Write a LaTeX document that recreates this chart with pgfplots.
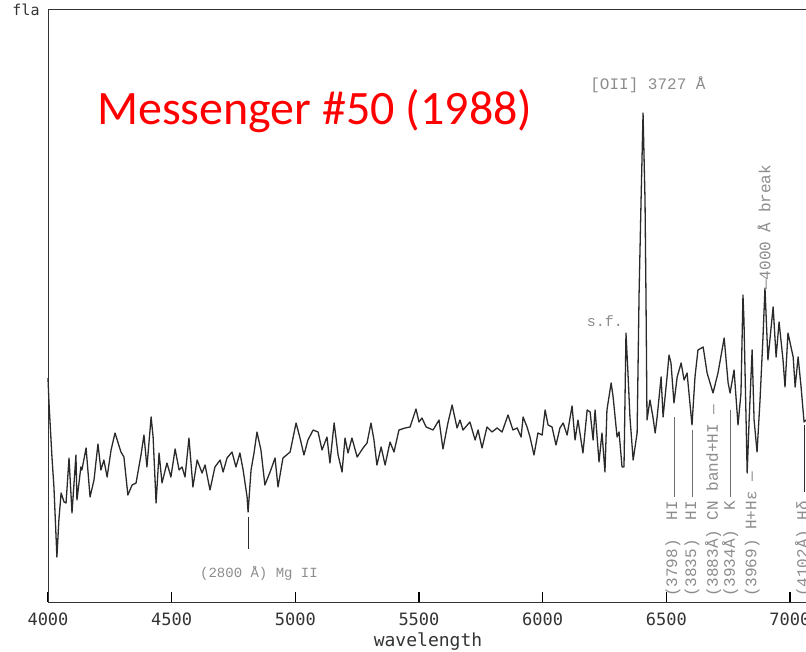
\documentclass[border=0pt]{standalone}
\usepackage{pgfplots}
\pgfplotsset{compat=1.18}
\usepackage{fontspec}
\setmainfont{Liberation Mono}
\newfontfamily\plotter{DejaVu Sans Mono}
\newfontfamily\titlefont{Carlito}
\definecolor{annot}{HTML}{8C8C8C}
\definecolor{annotline}{HTML}{6E6E6E}
\definecolor{trace}{HTML}{2A2A2A}
\tikzset{vlabel/.style={annot, font=\fontsize{16}{16}\selectfont, rotate=90, anchor=west, inner sep=0pt}}

\begin{document}
\begin{tikzpicture}
\begin{axis}[
  at={(0,0)}, anchor=south west,
  scale only axis, width=760pt, height=592pt,
  xmin=4000, xmax=7073, ymin=0, ymax=592,
  axis line style={line width=1pt, black!80},
  xtick={4000,4500,5000,5500,6000,6500,7000},
  xticklabels={4000,4500,5000,5500,6000,6500,7000},
  xtick pos=bottom, ytick=\empty,
  tick align=inside, major tick length=10pt,
  xtick style={line width=1.2pt, black},
  xticklabel style={font=\plotter\fontsize{17}{17}\selectfont, text=black!80, yshift=-7pt},
  xlabel={wavelength},
  xlabel style={font=\plotter\fontsize{18}{18}\selectfont, text=black!80, yshift=0pt},
  clip=false,
]
\addplot[trace, line width=1.3pt, line join=round] table[x=lam, y=flux] {
lam flux
4000 224
4004 199
4016 145
4024 115
4036 45
4044 82
4053 109
4065 100
4073 99
4085 144
4097 89
4113 147
4117 102
4133 135
4137 132
4154 154
4170 105
4186 122
4202 158
4214 132
4226 142
4239 125
4255 152
4271 169
4295 150
4307 145
4323 107
4340 117
4356 119
4376 147
4388 167
4400 135
4417 185
4425 165
4437 99
4449 149
4461 119
4481 139
4497 125
4514 153
4530 132
4542 135
4554 125
4570 164
4586 115
4603 142
4623 129
4635 137
4655 112
4675 135
4696 142
4708 130
4724 144
4744 150
4760 135
4776 149
4789 132
4805 105
4809 90
4821 132
4833 149
4845 170
4861 152
4877 117
4898 130
4918 144
4930 115
4950 144
4979 150
5003 179
5019 164
5035 147
5051 162
5072 172
5092 170
5108 152
5128 165
5140 139
5157 179
5173 147
5189 130
5201 164
5213 149
5229 164
5250 145
5274 154
5290 159
5306 179
5318 162
5330 137
5347 155
5363 137
5383 160
5399 150
5419 172
5444 174
5464 175
5488 193
5500 180
5512 184
5529 175
5557 172
5581 182
5597 153
5617 179
5634 197
5654 174
5666 182
5678 172
5706 180
5727 162
5739 172
5755 154
5775 175
5795 170
5816 174
5836 170
5860 187
5880 172
5897 174
5913 165
5921 185
5937 175
5949 165
5965 147
5981 169
5998 167
6010 192
6022 177
6038 175
6054 157
6070 174
6083 179
6099 167
6119 196
6131 162
6143 182
6163 149
6180 192
6192 190
6204 162
6212 192
6228 140
6240 169
6252 130
6260 192
6277 219
6285 205
6301 165
6309 170
6321 135
6329 135
6337 269
6345 229
6353 185
6366 142
6382 169
6390 309
6398 402
6406 489
6414 402
6418 302
6422 182
6434 202
6446 185
6455 169
6463 185
6479 225
6487 185
6503 225
6511 247
6519 239
6531 199
6544 225
6560 239
6572 222
6584 229
6604 177
6616 225
6628 252
6649 255
6665 229
6689 209
6709 229
6734 264
6750 219
6758 209
6774 232
6790 177
6802 209
6810 307
6814 282
6822 189
6827 129
6835 182
6847 252
6855 182
6867 150
6879 202
6891 265
6899 314
6911 242
6924 275
6932 295
6944 245
6956 280
6972 242
6980 215
6992 269
7013 245
7021 215
7033 245
7045 215
7057 180
7065 182
};
% title
\node[anchor=base west, inner sep=0pt, text=red, font=\titlefont\fontsize{48}{48}\selectfont]
  at (axis cs:4198,477) {Messenger \#50 (1988)};
% y label
\node[font=\plotter\fontsize{15}{15}\selectfont, text=black!80]
  at (axis cs:3911,592) {fla};
% line identifications
\draw[trace, line width=0.8pt] (axis cs:4809,85) -- (axis cs:4809,53);
\node[annot, font=\fontsize{14}{14}\selectfont] at (axis cs:4853,29) {(2800 Å) Mg II};
\node[annot, font=\fontsize{16}{16}\selectfont] at (axis cs:6426,517) {[OII] 3727 Å};
\node[annot, font=\fontsize{15}{15}\selectfont] at (axis cs:6252,281) {s.f.};
\node[vlabel] at (axis cs:6895,312) {—4000 Å break};
\draw[annotline, line width=0.7pt] (axis cs:6531,185) -- (axis cs:6531,105);
\draw[annotline, line width=0.7pt] (axis cs:6604,172) -- (axis cs:6604,105);
\draw[annotline, line width=0.7pt] (axis cs:6758,192) -- (axis cs:6758,105);
\draw[trace, line width=1pt] (axis cs:7057,177) -- (axis cs:7057,110);
\node[vlabel] at (axis cs:6527,5) {(3798)\ \ HI};
\node[vlabel] at (axis cs:6604,5) {(3835)\ \ HI};
\node[vlabel] at (axis cs:6689,5) {(3883Å) CN band+HI —};
\node[vlabel] at (axis cs:6758,5) {(3934Å)\ \ K};
\node[vlabel] at (axis cs:6847,5) {(3969) H+Hε —};
\node[vlabel] at (axis cs:7053,5) {(4102Å) Hδ};
\end{axis}
\pgfresetboundingbox
\path[use as bounding box] ([xshift=-48pt,yshift=-49pt]current axis.south west)
  rectangle ([xshift=-2pt,yshift=10pt]current axis.north east);
\end{tikzpicture}
\end{document}
